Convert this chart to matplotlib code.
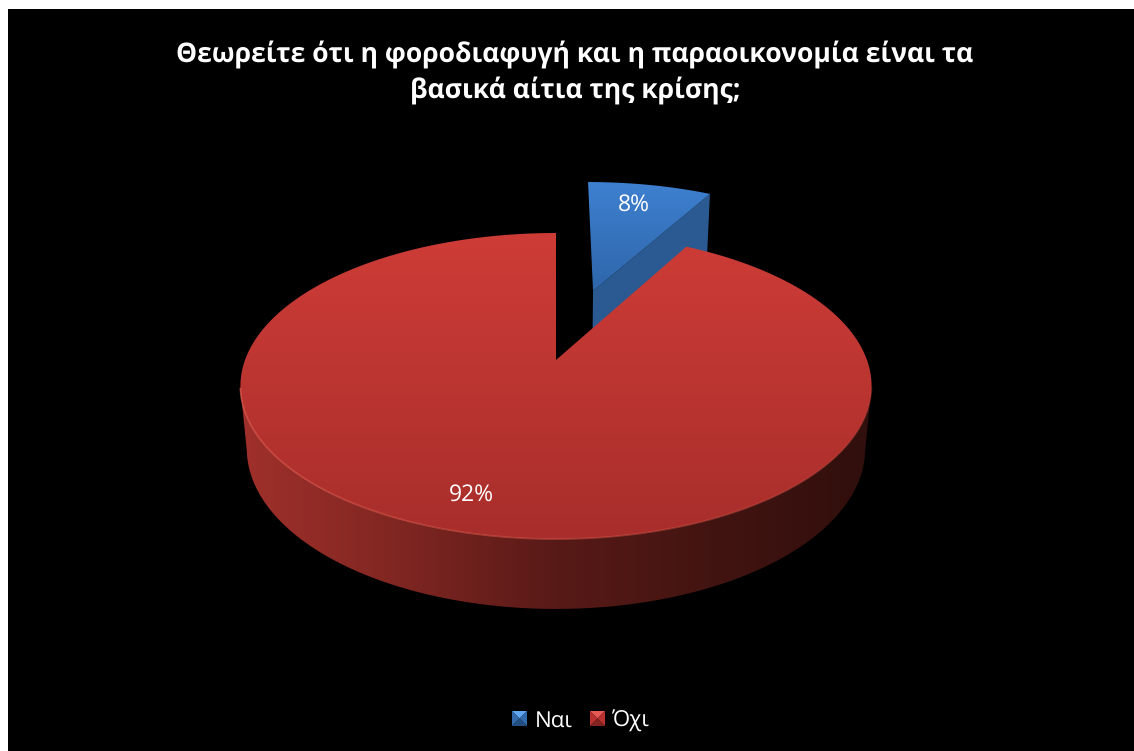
import numpy as np
import matplotlib
matplotlib.use('Agg')
import matplotlib.pyplot as plt
from matplotlib.collections import LineCollection
from matplotlib.colors import LinearSegmentedColormap
from matplotlib.patches import PathPatch, Polygon, Rectangle
from matplotlib.path import Path

title = 'Θεωρείτε ότι η φοροδιαφυγή και η παραοικονομία είναι τα\nβασικά αίτια της κρίσης;'
labels = ['Ναι', 'Όχι']
values = [8, 92]

W, H = 1134, 751

# camera for the 3d pie, all in pixels
cx, cy = 556, 360
A, B, D = 311, 148.6, 63
k, m = 0.17, 0.02
explode = 0.52


def rgb(c):
    return tuple(x/255 for x in c)


def project(u, v, z=0.0):
    # u to the right, v towards the viewer, z down
    w = 1 - k*v + m*z
    return np.column_stack([cx + A*u/w, cy + (B*v + D*z)/w])


def wedge(a0, a1, du=0.0, dv=0.0, z=0.0, n=200):
    # angles clockwise from 12 o'clock, in degrees
    t = np.radians(np.linspace(a0, a1, n))
    u = np.r_[0, np.sin(t)] + du
    v = np.r_[0, -np.cos(t)] + dv
    return project(u, v, z)


def gradient(ax, pts, stops, horizontal=False):
    x0, x1 = pts[:, 0].min(), pts[:, 0].max()
    y0, y1 = pts[:, 1].min(), pts[:, 1].max()
    cmap = LinearSegmentedColormap.from_list('g', [rgb(c) for c in stops])
    g = np.linspace(0, 1, 256)
    g = g.reshape(1, -1) if horizontal else g.reshape(-1, 1)
    im = ax.imshow(g, cmap=cmap, extent=(x0, x1, y1, y0), aspect='auto',
                   interpolation='bilinear', vmin=0, vmax=1, zorder=2)
    clip = PathPatch(Path(np.vstack([pts, pts[:1]]), closed=True), transform=ax.transData)
    im.set_clip_path(clip)


def legend_key(ax, x, y, s, light, mid, dark):
    # little pyramid swatch
    c = (x + s/2, y + s/2)
    tl, tr, br, bl = (x, y), (x+s, y), (x+s, y+s), (x, y+s)
    ax.add_patch(Polygon([tl, tr, c], fc=rgb(light), ec='none', zorder=3))
    ax.add_patch(Polygon([tl, bl, c], fc=rgb(mid), ec='none', zorder=3))
    ax.add_patch(Polygon([tr, br, c], fc=rgb(mid), ec='none', zorder=3))
    ax.add_patch(Polygon([bl, br, c], fc=rgb(dark), ec='none', zorder=3))


plt.rcParams['font.family'] = ['Open Sans', 'DejaVu Sans']
plt.rcParams['text.hinting'] = 'none'

fig = plt.figure(figsize=(W/100, H/100), dpi=100, facecolor='white')
ax = fig.add_axes([0, 0, 1, 1])
ax.set_xlim(0, W)
ax.set_ylim(H, 0)
ax.axis('off')
ax.add_patch(Rectangle((8, 9), W-8, H-9, fc='black', ec='none', zorder=0))

split = 360.0*values[0]/sum(values)
mid = np.radians(split/2)
du, dv = explode*np.sin(mid), -explode*np.cos(mid)

# blue slice, pulled out, with the cut wall seen on its right side
# the wall runs a bit deeper than the red rim so it always meets it
blue_top = wedge(0, split, du, dv)
blue_bottom = wedge(0, split, du, dv, z=1.2)
wall = np.array([blue_top[0], blue_top[-1], blue_bottom[-1], blue_bottom[0]])
ax.add_patch(Polygon(wall, fc=rgb((42, 90, 145)), ec='none', zorder=1))
gradient(ax, blue_top, [(62, 128, 208), (46, 102, 170)])

# red slice, side wall only from the widest points of the rim forward
t = np.radians(np.linspace(split, 360, 400))
u, v = np.sin(t), -np.cos(t)
front = v > k
rim_top = project(u[front], v[front])
rim_bottom = project(u[front], v[front], 1)
side = np.vstack([rim_top, rim_bottom[::-1]])
wall_stops = [(160, 48, 43), (128, 38, 34), (88, 26, 23), (66, 20, 17), (48, 15, 12)]
gradient(ax, side, wall_stops, horizontal=True)
red_top = wedge(split, 360)
gradient(ax, red_top, [(206, 60, 55), (168, 46, 43)])

# highlight along the front edge, fading from left to right
order = np.argsort(rim_top[:, 0])
pts = rim_top[order]
segs = np.stack([pts[:-1], pts[1:]], axis=1)
fade = np.linspace(0.8, 0.2, len(segs))
line_colors = [rgb((222, 90, 78)) + (a,) for a in fade]
ax.add_collection(LineCollection(segs, colors=line_colors, linewidths=1.2, zorder=3))

ax.text(634, 205, '%d%%' % values[0], color='white', fontsize=16.5, ha='center', va='center', zorder=4)
ax.text(471, 495, '%d%%' % values[1], color='white', fontsize=16.5, ha='center', va='center', zorder=4)

ax.text(575, 72, title, color='white', fontsize=19.1, fontweight='bold',
        ha='center', va='center', linespacing=1.38, zorder=4)

legend_key(ax, 512, 711, 15, (95, 165, 240), (50, 105, 170), (35, 80, 130))
ax.text(535, 721, labels[0], color='white', fontsize=16, ha='left', va='center', zorder=4)
legend_key(ax, 590, 711, 15, (230, 90, 85), (185, 50, 48), (130, 35, 32))
ax.text(612, 721, labels[1], color='white', fontsize=16, ha='left', va='center', zorder=4)

fig.savefig('out.png', dpi=100, facecolor='white')
